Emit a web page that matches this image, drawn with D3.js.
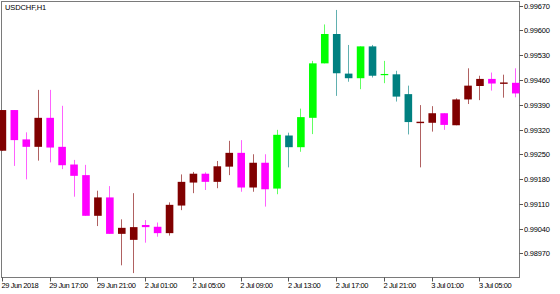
<!DOCTYPE html>
<html><head><meta charset="utf-8">
<script src="https://cdn.jsdelivr.net/npm/d3@7"></script>
<style>html,body{margin:0;padding:0;background:#fff;}svg{display:block;}</style>
</head><body>
<svg id="c" width="560" height="294"></svg>
<script>
const title = "USDCHF,H1";
const opens = [0.99260,0.99375,0.99292,0.99271,0.99353,0.99271,0.99221,0.99191,0.99076,0.99128,0.99025,0.99008,0.99050,0.99045,0.99027,0.99105,0.99170,0.99195,0.99172,0.99215,0.99254,0.99156,0.99226,0.99153,0.99303,0.99270,0.99353,0.99507,0.99590,0.99478,0.99465,0.99555,0.99474,0.99476,0.99420,0.99338,0.99339,0.99366,0.99332,0.99405,0.99443,0.99463,0.99449,0.99452];
const highs = [0.99375,0.99375,0.99312,0.99432,0.99432,0.99387,0.99234,0.99220,0.99147,0.99160,0.99066,0.99140,0.99064,0.99057,0.99114,0.99193,0.99200,0.99199,0.99231,0.99288,0.99290,0.99250,0.99250,0.99319,0.99311,0.99379,0.99514,0.99617,0.99658,0.99559,0.99555,0.99559,0.99514,0.99486,0.99444,0.99389,0.99386,0.99366,0.99408,0.99493,0.99472,0.99481,0.99475,0.99493];
const lows = [0.99260,0.99217,0.99179,0.99232,0.99227,0.99208,0.99130,0.99076,0.99047,0.99025,0.98936,0.98914,0.99000,0.99017,0.99020,0.99092,0.99140,0.99149,0.99154,0.99191,0.99144,0.99144,0.99102,0.99137,0.99213,0.99257,0.99307,0.99507,0.99415,0.99455,0.99434,0.99467,0.99451,0.99399,0.99306,0.99213,0.99314,0.99319,0.99332,0.99392,0.99403,0.99430,0.99410,0.99411];
const closes = [0.99375,0.99290,0.99271,0.99353,0.99269,0.99219,0.99189,0.99076,0.99128,0.99025,0.99042,0.99044,0.99044,0.99027,0.99107,0.99172,0.99195,0.99172,0.99216,0.99254,0.99156,0.99226,0.99151,0.99305,0.99270,0.99355,0.99507,0.99590,0.99479,0.99465,0.99555,0.99472,0.99477,0.99413,0.99341,0.99342,0.99366,0.99333,0.99405,0.99444,0.99463,0.99450,0.99453,0.99422];
const trend = ["down","down","down","down","down","down","down","down","down","down","down","down","down","down","down","down","down","down","down","down","down","down","down","up","up","up","up","up","up","up","up","up","up","up","up","down","down","down","down","down","down","down","down","down"];
const priceTicks = [0.99670,0.99600,0.99530,0.99460,0.99390,0.99320,0.99250,0.99180,0.99110,0.99040,0.98970];
const timeTickBars = [0,4,8,12,16,20,24,28,32,36,40];
const timeTickLabels = ["29 Jun 2018","29 Jun 17:00","29 Jun 21:00","2 Jul 01:00","2 Jul 05:00","2 Jul 09:00","2 Jul 13:00","2 Jul 17:00","2 Jul 21:00","3 Jul 01:00","3 Jul 05:00"];

const colorOf = (t, bull) => t === "up" ? (bull ? "#00ff00" : "#008080") : (bull ? "#800000" : "#ff00ff");

const svg = d3.select("#c");
const L = 1.5, T = 1.5, R = 519.5, B = 277.5;
const x = d3.scaleLinear().domain([0, 43]).range([1.9, 515.3]);
const y = d3.scaleLinear().domain([0.98970, 0.99670]).range([253.3, 5.7]);
const font = "Liberation Sans, Arial, sans-serif";

const data = opens.map((o, i) => ({i, o, h: highs[i], l: lows[i], c: closes[i], t: trend[i]}));

// border
svg.append("rect").attr("x", L).attr("y", T).attr("width", R - L).attr("height", B - T)
  .attr("fill", "none").attr("stroke", "#7a7a7a").attr("stroke-width", 1);

// y axis ticks + labels
const ya = svg.append("g");
priceTicks.forEach(p => {
  const yy = Math.round(y(p)) + 0.5;
  ya.append("line").attr("x1", R).attr("x2", R + 3.5).attr("y1", yy).attr("y2", yy).attr("stroke", "#555");
  ya.append("text").attr("x", 524).attr("y", yy + 2.6).text(p.toFixed(5))
    .attr("font-family", font).attr("font-size", 7.5).attr("letter-spacing", -0.2).attr("fill", "#000");
});

// x axis ticks + labels
const xa = svg.append("g");
timeTickBars.forEach((b, k) => {
  const xx = Math.round(x(b)) + 0.5;
  xa.append("line").attr("x1", xx).attr("x2", xx).attr("y1", B).attr("y2", B + 4).attr("stroke", "#555");
  xa.append("text").attr("x", Math.max(1.5, x(b) - 0.5)).attr("y", 288).text(timeTickLabels[k])
    .attr("font-family", font).attr("font-size", 7.5).attr("letter-spacing", -0.4).attr("fill", "#000");
});

// title
svg.append("text").attr("x", 5).attr("y", 9.6).text(title)
  .attr("font-family", font).attr("font-size", 7.5).attr("letter-spacing", -0.1).attr("fill", "#000");

// candles
const bw = 7.6;
const g = svg.append("g");
g.selectAll("line.wick").data(data).join("line").attr("class", "wick")
  .attr("x1", d => Math.round(x(d.i)) + 0.5).attr("x2", d => Math.round(x(d.i)) + 0.5)
  .attr("y1", d => y(d.h)).attr("y2", d => y(d.l))
  .attr("stroke", d => colorOf(d.t, d.c >= d.o)).attr("stroke-opacity", 0.62).attr("stroke-width", 1);
g.selectAll("rect.body").data(data).join("rect").attr("class", "body")
  .attr("x", d => x(d.i) - bw / 2 + 0.5).attr("width", bw)
  .attr("y", d => y(Math.max(d.o, d.c)))
  .attr("height", d => Math.max(1.2, Math.abs(y(d.o) - y(d.c))))
  .attr("fill", d => colorOf(d.t, d.c >= d.o));
</script>
</body></html>
